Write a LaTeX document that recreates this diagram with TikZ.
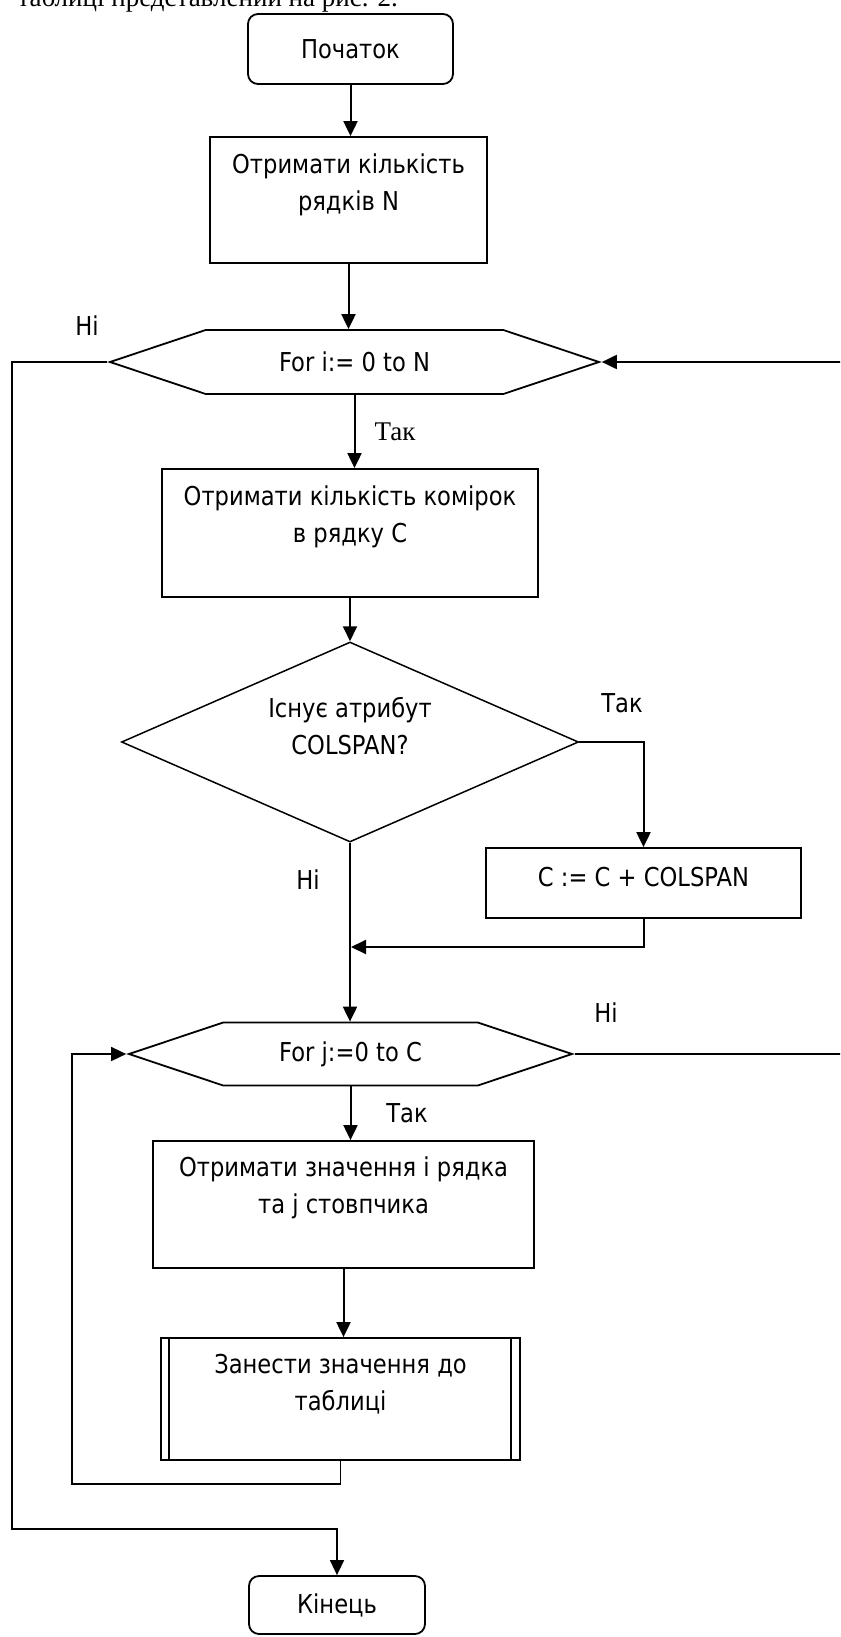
\documentclass[tikz,border=0pt]{standalone}
\usepackage{fontspec}
\setmainfont{Liberation Serif}
\newfontfamily\boxfont[FakeStretch=0.87]{DejaVu Sans}
\usetikzlibrary{shapes.geometric,shapes.symbols,arrows.meta}

\begin{document}
\begin{tikzpicture}[x=1pt,y=-1pt,
  every node/.style={font=\boxfont\fontsize{26}{37}\selectfont},
  termbox/.style={draw,line width=1.8pt,rounded corners=10pt,inner sep=0pt},
  procbox/.style={draw,line width=1.8pt,inner sep=0pt},
  loopbox/.style={draw,line width=1.8pt,shape=signal,signal to=east and west,
    signal pointer angle=37,inner sep=0pt},
  testbox/.style={draw,line width=1.5pt,diamond,inner sep=0pt},
  txt/.style={align=center,inner sep=0pt},
  serif/.style={font=\rmfamily\fontsize{27}{32}\selectfont},
  flow/.style={line width=2pt,-{Triangle[length=15pt,width=14pt]}},
  link/.style={line width=1.6pt}]
  \useasboundingbox (0,0) rectangle (840,1637);
  \clip (0,0) rectangle (840,1637);
  % line of the page above the chart
  \node[serif,anchor=base east,inner sep=0pt] (caption) at (398,7) {таблиці представлений на рис. 2.};
  % terminals
  \node[termbox,minimum width=205,minimum height=70] (start) at (350.5,49) {Початок};
  \node[termbox,minimum width=176,minimum height=58] (finish) at (337,1605) {Кінець};
  % process boxes, text set at the top of each
  \node[procbox,minimum width=277,minimum height=126] (getrows) at (348.5,200) {};
  \node[txt] (getrowsT) at (348.5,185) {Отримати кількість\\рядків N};
  \node[procbox,minimum width=376,minimum height=128] (getcells) at (350,533) {};
  \node[txt] (getcellsT) at (350,517) {Отримати кількість комірок\\в рядку С};
  \node[procbox,minimum width=315,minimum height=70] (addspan) at (643.5,883) {};
  \node[txt] (addspanT) at (643.5,877) {C := C + COLSPAN};
  \node[procbox,minimum width=381,minimum height=127] (getval) at (343.5,1204.5) {};
  \node[txt] (getvalT) at (343.5,1188) {Отримати значення і рядка\\та j стовпчика};
  \node[procbox,minimum width=359,minimum height=122] (store) at (340.5,1399) {};
  \node[txt] (storeT) at (340.5,1384) {Занести значення до\\таблиці};
  \draw[link] ([xshift=9]store.north west) -- ([xshift=9]store.south west);
  \draw[link] ([xshift=-10]store.north east) -- ([xshift=-10]store.south east);
  % loops and test
  \node[loopbox,minimum width=489,minimum height=64] (forI) at (354.5,362) {For i:= 0 to N};
  \node[loopbox,minimum width=443,minimum height=63] (forJ) at (350.5,1054) {For j:=0 to C};
  \node[testbox,minimum width=457,minimum height=200] (colspan) at (350,742) {};
  \node[txt] (colspanT) at (350,726) {Існує атрибут\\COLSPAN?};
  % branch labels
  \node[txt] (noI) at (87,326) {Ні};
  \node[txt,serif] (yesI) at (395,432) {Так};
  \node[txt] (yesC) at (622,703) {Так};
  \node[txt] (noC) at (308,880) {Ні};
  \node[txt] (noJ) at (606,1013) {Ні};
  \node[txt] (yesJ) at (407,1113) {Так};
  % free ends of the connectors
  \coordinate (merge) at (351,947);
  \coordinate (jback) at (72,1484);
  \coordinate (iout) at (12,1529);
  \coordinate (jout) at (843,0);
  % main line
  \draw[flow] (start.south) -- (start.south |- getrows.north);
  \draw[flow] (getrows.south) -- (getrows.south |- forI.north);
  \draw[flow] (forI.south) -- (forI.south |- getcells.north);
  \draw[flow] (getcells.south) -- (getcells.south |- colspan.north);
  \draw[flow] (colspan.east) -| (addspan.north);
  \draw[flow] (addspan.south) |- (merge);
  \draw[flow] (colspan.south) -- (colspan.south |- forJ.north);
  \draw[flow] (forJ.south) -- (forJ.south |- getval.north);
  \draw[flow] (getval.south) -- (getval.south |- store.north);
  % loop returns and exits
  \draw[flow,line width=1.6pt] (store.south) |- (jback) |- (forJ.west);
  \draw[flow] (forJ.east) -- (forJ.east -| jout) |- (forI.east);
  \draw[flow,line width=1.6pt] (forI.west) -| (iout) -| (finish.north);
\end{tikzpicture}
\end{document}
